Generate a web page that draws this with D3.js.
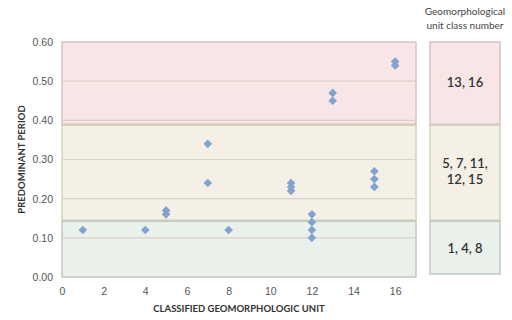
<!DOCTYPE html>
<html>
<head>
<meta charset="utf-8">
<script src="https://cdn.jsdelivr.net/npm/d3@7"></script>
<style>
  body { margin: 0; background: #fff; }
  svg { font-family: Lato, "Open Sans", sans-serif; }
</style>
</head>
<body>
<script>
// classified unit and predominant period for each site
const units   = [1, 4, 5, 5, 7, 7, 8, 11, 11, 11, 12, 12, 12, 12, 13, 13, 15, 15, 15, 16, 16];
const periods = [0.12, 0.12, 0.16, 0.17, 0.34, 0.24, 0.12, 0.22, 0.23, 0.24, 0.16, 0.14, 0.12, 0.10, 0.45, 0.47, 0.23, 0.25, 0.27, 0.54, 0.55];

// period bands and the unit classes in each
const bandLow   = [0.39, 0.145, 0];
const bandHigh  = [0.60, 0.39, 0.145];
const bandNames = [["13, 16"], ["5, 7, 11,", "12, 15"], ["1, 4, 8"]];
const bandFill  = ["#f8e6e6", "#f4f0e6", "#eaf0ea"];
const bandLine  = ["#d9c3c3", "#d6d2bd", "#bfcabf"];

const xTicks = [0, 2, 4, 6, 8, 10, 12, 14, 16];
const yTicks = [0, 0.1, 0.2, 0.3, 0.4, 0.5, 0.6];

const width = 512, height = 320;
const x = d3.scaleLinear().domain([0, 17]).range([62, 416]);
const y = d3.scaleLinear().domain([0, 0.6]).range([277, 42]);

const svg = d3.select('body').append('svg')
  .attr('width', width)
  .attr('height', height);

// background bands
svg.append('g').selectAll('rect')
  .data(bandLow)
  .enter().append('rect')
    .attr('x', x(0))
    .attr('width', x(17) - x(0))
    .attr('y', (d, i) => y(bandHigh[i]) + (i ? 1 : 0))
    .attr('height', (d, i) => y(d) - y(bandHigh[i]) - (i ? 1 : 0))
    .attr('fill', (d, i) => bandFill[i])
    .attr('stroke', (d, i) => bandLine[i])
    .attr('stroke-width', 1.5);

// gridlines
svg.append('g').selectAll('line')
  .data(yTicks.filter(d => d > 0 && d < 0.6))
  .enter().append('line')
    .attr('x1', x(0) + 1)
    .attr('x2', x(17) - 1)
    .attr('y1', d => y(d))
    .attr('y2', d => y(d))
    .attr('stroke', '#d8d2ca')
    .attr('stroke-width', 1.2);

// axes (labels only)
const yAxis = svg.append('g')
  .attr('transform', `translate(${x(0)},0)`)
  .call(d3.axisLeft(y).tickValues(yTicks).tickFormat(d3.format('.2f')).tickSize(0).tickPadding(9));
const xAxis = svg.append('g')
  .attr('transform', `translate(0,${y(0)})`)
  .call(d3.axisBottom(x).tickValues(xTicks).tickSize(0).tickPadding(11));
[xAxis, yAxis].forEach(a => {
  a.select('.domain').remove();
  a.selectAll('text').attr('fill', '#555').style('font-size', '10.5px');
});

svg.append('text')
  .attr('transform', `translate(25,${(y(0) + y(0.6)) / 2}) rotate(-90)`)
  .attr('text-anchor', 'middle')
  .attr('font-size', 9.5)
  .attr('font-weight', 'bold')
  .attr('fill', '#333')
  .text('PREDOMINANT PERIOD');

svg.append('text')
  .attr('x', (x(0) + x(17)) / 2)
  .attr('y', 312)
  .attr('text-anchor', 'middle')
  .attr('font-size', 9.5)
  .attr('font-weight', 'bold')
  .attr('fill', '#333')
  .text('CLASSIFIED GEOMORPHOLOGIC UNIT');

// points
svg.append('g').selectAll('path')
  .data(units)
  .enter().append('path')
    .attr('transform', (d, i) => `translate(${x(d)},${y(periods[i])})`)
    .attr('d', d3.symbol(d3.symbolDiamond2, 48))
    .attr('fill', '#82a3cf');

// class legend on the right
const lx = 430, lw = 70;
const leg = svg.append('g');
leg.selectAll('rect')
  .data(bandLow)
  .enter().append('rect')
    .attr('x', lx)
    .attr('width', lw)
    .attr('y', (d, i) => y(bandHigh[i]) + (i ? 1 : 0))
    .attr('height', (d, i) => y(d) - y(bandHigh[i]) - (i ? 1 : 0) - (i === 2 ? 3 : 0))
    .attr('fill', (d, i) => bandFill[i])
    .attr('stroke', (d, i) => bandLine[i])
    .attr('stroke-width', 1.5);

leg.selectAll('text.cls')
  .data(bandNames)
  .enter().append('text')
    .attr('class', 'cls')
    .attr('x', lx + lw / 2)
    .attr('y', (d, i) => (y(bandLow[i]) + y(bandHigh[i])) / 2 - (d.length - 1) * 8 + 4)
    .attr('text-anchor', 'middle')
    .attr('font-size', 13)
    .attr('font-weight', 600)
    .attr('fill', '#333')
    .selectAll('tspan')
    .data(d => d)
    .enter().append('tspan')
      .attr('x', lx + lw / 2)
      .attr('dy', (d, i) => i ? 16 : 0)
      .text(d => d);

leg.selectAll('text.ttl')
  .data(['Geomorphological', 'unit class number'])
  .enter().append('text')
    .attr('class', 'ttl')
    .attr('x', lx + lw / 2)
    .attr('y', (d, i) => 15 + i * 14)
    .attr('text-anchor', 'middle')
    .attr('font-size', 10)
    .attr('fill', '#444')
    .text(d => d);
</script>
</body>
</html>
